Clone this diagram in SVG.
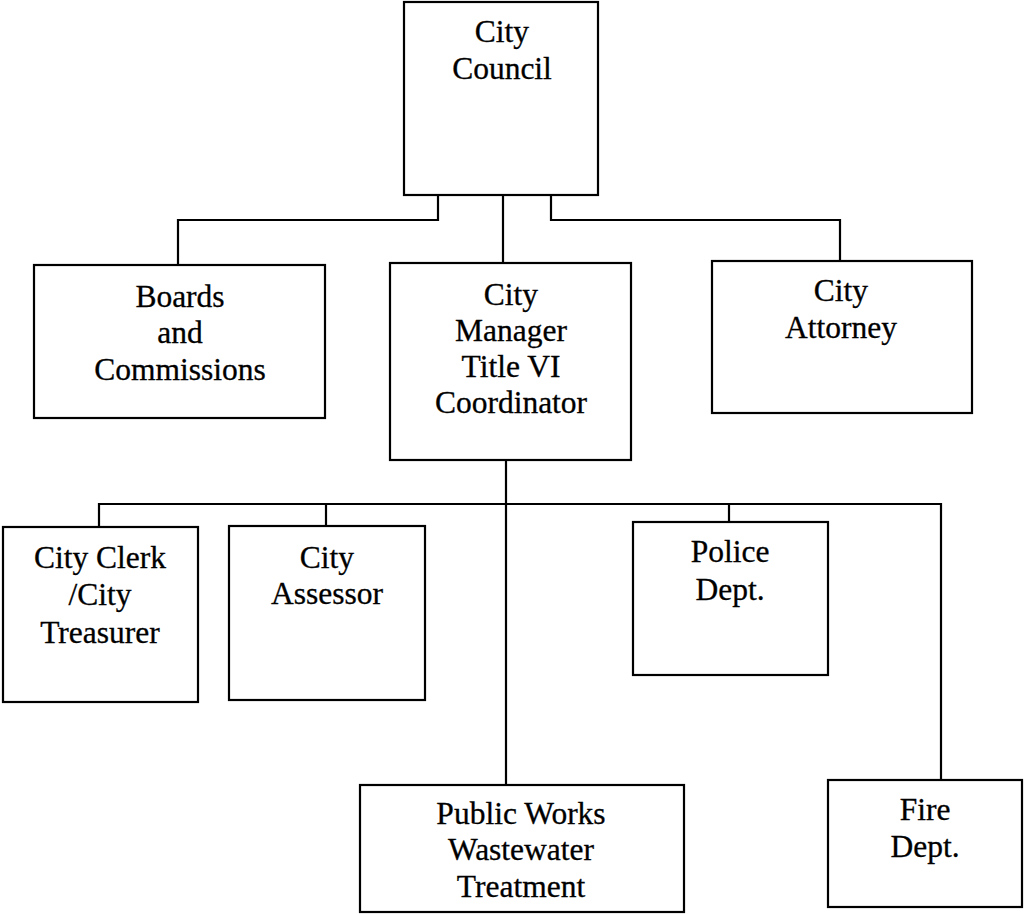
<svg xmlns="http://www.w3.org/2000/svg" width="1024" height="914" viewBox="0 0 1024 914">
<style>
.box{fill:#fff;stroke:#000;stroke-width:2.2}
.ln{fill:none;stroke:#000;stroke-width:2.2}
text{font-family:"Liberation Serif","Times New Roman",serif;font-size:31.5px;fill:#000;stroke:#000;stroke-width:0.3;text-anchor:middle}
</style>
<rect width="1024" height="914" fill="#fff"/>
<g id="connectors">
<path class="ln" d="M438,195 V220 H178 V265"/>
<path class="ln" d="M503,195 V263"/>
<path class="ln" d="M551,195 V220 H840 V261"/>
<path class="ln" d="M506,460 V785"/>
<path class="ln" d="M99,527 V504 H941 V780"/>
<path class="ln" d="M326,504 V526"/>
<path class="ln" d="M729,504 V522"/>
</g>
<g id="council"><rect class="box" x="404" y="2" width="194" height="193"/><text x="502" y="42">City</text><text x="502" y="79">Council</text></g>
<g id="boards"><rect class="box" x="34" y="265" width="291" height="153"/><text x="180" y="307">Boards</text><text x="180" y="343">and</text><text x="180" y="380">Commissions</text></g>
<g id="manager"><rect class="box" x="390" y="263" width="241" height="197"/><text x="511" y="305">City</text><text x="511" y="341">Manager</text><text x="511" y="377">Title VI</text><text x="511" y="413">Coordinator</text></g>
<g id="attorney"><rect class="box" x="712" y="261" width="260" height="152"/><text x="841" y="301">City</text><text x="841" y="338">Attorney</text></g>
<g id="clerk"><rect class="box" x="3" y="527" width="195" height="175"/><text x="100" y="568">City Clerk</text><text x="100" y="605">/City</text><text x="100" y="643">Treasurer</text></g>
<g id="assessor"><rect class="box" x="229" y="526" width="196" height="174"/><text x="327" y="568">City</text><text x="327" y="604">Assessor</text></g>
<g id="police"><rect class="box" x="633" y="522" width="195" height="153"/><text x="730" y="562">Police</text><text x="730" y="600">Dept.</text></g>
<g id="publicworks"><rect class="box" x="360" y="785" width="324" height="127"/><text x="521" y="824">Public Works</text><text x="521" y="860">Wastewater</text><text x="521" y="897">Treatment</text></g>
<g id="fire"><rect class="box" x="828" y="780" width="194" height="127"/><text x="925" y="820">Fire</text><text x="925" y="857">Dept.</text></g>
</svg>
